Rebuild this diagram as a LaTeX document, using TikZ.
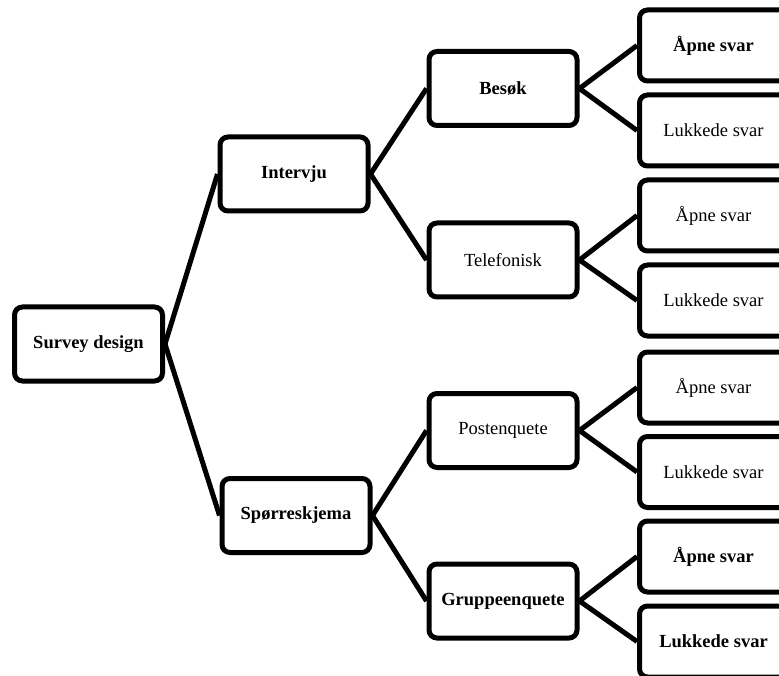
\documentclass[tikz,border=0pt]{standalone}
\usepackage{fontspec}
\setmainfont{Liberation Serif}
\begin{document}
\begin{tikzpicture}[x=1pt,y=-1pt,
  box/.style={draw=black, line width=5pt, rounded corners=8pt, fill=white,
    minimum width=148pt, minimum height=74pt, inner sep=0pt,
    font=\fontsize{18.5}{22}\selectfont},
  bbox/.style={box, font=\fontsize{18.5}{22}\selectfont\bfseries},
  leaf/.style={box, minimum height=71pt},
  bleaf/.style={bbox, minimum height=71pt},
  link/.style={draw=black, line width=5pt}]
\clip (0,0) rectangle (779,676);
\fill[white] (0,0) rectangle (779,676);
% root
\node[bbox] (root) at (88.5,344) {Survey design};
% level 1
\node[bbox] (int) at (294,174) {Intervju};
\node[bbox] (spo) at (296,515.5) {Spørreskjema};
% level 2
\node[bbox] (bes) at (503,88.5) {Besøk};
\node[box]  (tel) at (503,260) {Telefonisk};
\node[box]  (pos) at (503,430.5) {Postenquete};
\node[bbox] (gru) at (503,601) {Gruppeenquete};
% leaves
\node[bleaf] (l1) at (713.5,45.5) {Åpne svar};
\node[leaf]  (l2) at (713.5,130.5) {Lukkede svar};
\node[leaf]  (l3) at (713.5,215.5) {Åpne svar};
\node[leaf]  (l4) at (713.5,300.5) {Lukkede svar};
\node[leaf]  (l5) at (713.5,387.5) {Åpne svar};
\node[leaf]  (l6) at (713.5,472) {Lukkede svar};
\node[bleaf] (l7) at (713.5,556.5) {Åpne svar};
\node[bleaf] (l8) at (713.5,641.5) {Lukkede svar};
% connectors
\draw[link] (root.east) -- (int.west);
\draw[link] (root.east) -- (spo.west);
\draw[link] (int.east) -- (bes.west);
\draw[link] (int.east) -- (tel.west);
\draw[link] (spo.east) -- (pos.west);
\draw[link] (spo.east) -- (gru.west);
\draw[link] (bes.east) -- (l1.west);
\draw[link] (bes.east) -- (l2.west);
\draw[link] (tel.east) -- (l3.west);
\draw[link] (tel.east) -- (l4.west);
\draw[link] (pos.east) -- (l5.west);
\draw[link] (pos.east) -- (l6.west);
\draw[link] (gru.east) -- (l7.west);
\draw[link] (gru.east) -- (l8.west);
\end{tikzpicture}
\end{document}
